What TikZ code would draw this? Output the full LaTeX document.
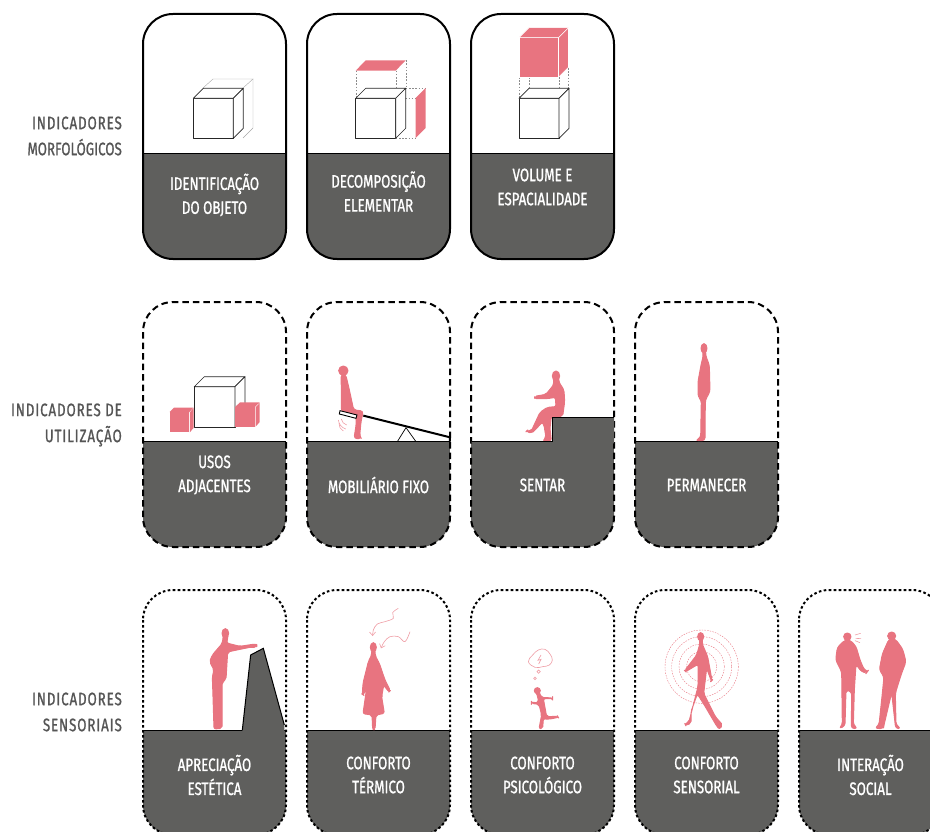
\documentclass[tikz,border=0pt]{standalone}
\usepackage{fontspec}
\usetikzlibrary{arrows.meta}
\newfontfamily\din[FakeStretch=0.74,FakeBold=1.0]{Fira Sans}
\newcommand{\ls}[1]{{\addfontfeature{LetterSpace=5}#1}}
\definecolor{rosa}{HTML}{E87480}
\definecolor{escuro}{HTML}{5F5F5D}
\definecolor{rotulo}{HTML}{555555}
\tikzset{
 x=1pt,y=-1pt,
 cardtext/.style={text=white,align=center,font=\din\fontsize{18}{24}\selectfont,inner sep=0pt},
 rowtext/.style={text=rotulo,align=right,anchor=east,font=\din\fontsize{18}{26}\selectfont,inner sep=0pt},
 solidcard/.style={line width=2pt},
 dashcard/.style={line width=2pt,dash pattern=on 6.5pt off 4pt},
 dotcard/.style={line width=2pt,dash pattern=on 2.6pt off 2.4pt},
 fig/.style={fill=rosa,draw=rosa,line width=1pt,line join=round},
 thin pink/.style={draw=rosa!70,line width=0.6pt},
 ghost/.style={draw=black!35,line width=0.4pt},
 guide/.style={draw=black!45,line width=0.4pt,dash pattern=on 1.6pt off 1.6pt},
 cube/.style={draw=black!85,line width=0.7pt,fill=white,line join=round},
}
\newcommand{\card}[7]{% name, x, ytop, ydiv, style, text y, text
 \path[fill=escuro,rounded corners=30pt] (#2,#4) -- (#2+143,#4) -- (#2+143,#3+245) -- (#2,#3+245) -- cycle;
 \fill[escuro] (#2,#4) rectangle (#2+143,#4+35);
 \draw[black,line width=1pt] (#2,#4) -- (#2+143,#4);
 \draw[#5,rounded corners=30pt] (#2,#3) rectangle (#2+143,#3+245);
 \node[cardtext] (#1) at (#2+71.5,#6) {#7};
}
\newcommand{\cubo}[4][cube]{% style; x,y,w
 \draw[#1] (#2,#3) rectangle (#2+#4,#3+#4);
 \draw[#1] (#2,#3) -- (#2+10,#3-10) -- (#2+#4+10,#3-10) -- (#2+#4,#3) -- cycle;
 \draw[#1] (#2+#4,#3) -- (#2+#4+10,#3-10) -- (#2+#4+10,#3+#4-10) -- (#2+#4,#3+#4) -- cycle;
}
\begin{document}
\begin{tikzpicture}
\useasboundingbox (0,0) rectangle (930,832);
\clip (0,0) rectangle (930,832);
% row labels
\node[rowtext] (r1) at (122,136) {\ls{INDICADORES}\\MORFOLÓGICOS};
\node[rowtext] (r2) at (122,425) {\ls{INDICADORES DE}\\\ls{UTILIZAÇÃO}};
\node[rowtext] (r3) at (122,712) {\ls{INDICADORES}\\\ls{SENSORIAIS}};
% row 1
\card{c1}{143}{14}{154}{solidcard}{195}{IDENTIFICAÇÃO\\DO OBJETO}
\card{c2}{307}{14}{154}{solidcard}{191.5}{DECOMPOSIÇÃO\\ELEMENTAR}
\card{c3}{471}{14}{154}{solidcard}{187}{VOLUME E\\ESPACIALIDADE}
% row 2
\card{c4}{143}{302}{441}{dashcard}{475}{USOS\\ADJACENTES}
\card{c5}{307}{302}{441}{dashcard}{485}{MOBILIÁRIO FIXO}
\card{c6}{471}{302}{441}{dashcard}{485}{SENTAR}
\card{c7}{635}{302}{441}{dashcard}{485}{PERMANECER}
% row 3
\card{c8}{143}{590}{730}{dotcard}{775}{APRECIAÇÃO\\ESTÉTICA}
\card{c9}{307}{590}{730}{dotcard}{775}{CONFORTO\\TÉRMICO}
\card{c10}{471}{590}{730}{dotcard}{775}{CONFORTO\\PSICOLÓGICO}
\card{c11}{635}{590}{730}{dotcard}{775}{CONFORTO\\SENSORIAL}
\card{c12}{799}{590}{730}{dotcard}{775}{INTERAÇÃO\\SOCIAL}
% --- row 1 cubes
\draw[ghost] (203,88) -- (213,79) -- (253,79) -- (243,88);
\draw[ghost] (253,79) -- (253,128) -- (243,138);
\cubo{193.3}{98.3}{40}
% decomposition
\draw[guide] (355.7,70.7) -- (355.7,98) (395.7,70.7) -- (395.7,98) (405.7,60.3) -- (405.7,88)
 (405.7,88) -- (425.7,88) (395.7,98) -- (415.7,98) (395.7,138) -- (415.7,138);
\cubo{355.7}{98.3}{40}
\fill[rosa] (355.7,70.7) -- (395.7,70.7) -- (405.7,60.3) -- (365.7,60.3) -- cycle;
\fill[rosa] (415.7,98) -- (425.7,88) -- (425.7,128) -- (415.7,138) -- cycle;
% volume
\draw[guide] (519,77) -- (519,98) (529,77) -- (529,88) (559,77) -- (559,98) (568.5,68) -- (568.5,88);
\cubo{519}{98.3}{40}
\begin{scope}
\tikzset{pinkcube/.style={fill=rosa,draw=white,line width=0.6pt}}
\cubo[pinkcube]{519}{37.7}{39.5}
\end{scope}
% --- row 2
\draw[cube] (194.3,386.7) rectangle (235,427.3);
\draw[cube] (194.3,386.7) -- (204.3,376.7) -- (245,376.7) -- (235,386.7) -- cycle;
\draw[cube] (235,386.7) -- (245,376.7) -- (245,417) -- (235,427.3) -- cycle;
\fill[rosa] (169.7,412.3) rectangle (189.3,432.3);
\fill[rosa] (169.7,412) -- (174,407.5) -- (193.5,407.5) -- (189.5,412) -- cycle;
\fill[rosa] (189.9,412.3) -- (193.5,408) -- (193.5,428) -- (189.9,432.3) -- cycle;
\fill[rosa] (235.3,407.3) rectangle (255,426.7);
\fill[rosa] (235.3,406.8) -- (240,402.4) -- (259.7,402.4) -- (255,406.8) -- cycle;
\fill[rosa] (255.6,407.3) -- (259.7,403) -- (259.7,422) -- (255.6,426.7) -- cycle;
% seesaw
\begin{scope}[shift={(130,295)},scale=1/3]
\draw[black,line width=2pt] (700,362) -- (960,427) -- (960,440);
\draw[black,line width=0.7pt] (802,440) -- (828,398) -- (858,440);
\end{scope}
\begin{scope}[shift={(325,355)},scale=1/3]
\fill[fig] (55,47) circle[radius=14];
\fill[fig,rounded corners=3pt] (48,58) -- (62,58) -- (72,100) -- (86,165) -- (115,168) -- (108,200) -- (104,243) -- (109,251) -- (87,251) -- (94,205) -- (92,180) -- (49,170) -- (49,100) -- cycle;
\draw[black,line width=0.9pt,fill=white] (45,167) -- (96,180) -- (93,190) -- (43,177) -- cycle;
\draw[thin pink] (40,195) to[bend right=30] (62,222);
\draw[thin pink] (42,205) to[bend right=30] (55,228);
\draw[thin pink] (49,192) to[bend right=30] (65,210);
\end{scope}
\begin{scope}[shift={(460,295)},scale=1/3]
\fill[escuro] (35,440) -- (277,440) -- (277,367) -- (462,367) -- (462,445) -- (35,445) -- cycle;
\fill[fig] (288,243) ellipse[x radius=11,y radius=15];
\fill[fig,rounded corners=2pt] (280,250) -- (296,250) -- (296,260) -- (312,285) -- (314,320) -- (308,364) -- (274,364) -- (270,400) -- (274,437) -- (248,437) -- (258,428) -- (252,390) -- (247,382) -- (215,415) -- (199,409) -- (202,406) -- (214,408) -- (240,352) -- (262,337) -- (288,335) -- (286,307) -- (262,311) -- (224,311) -- (224,304) -- (258,298) -- (282,268) -- cycle;
\draw[black,line width=1pt] (35,440) -- (277,440) -- (277,367) -- (462,367);
\fill[fig] (732,160) ellipse[x radius=9,y radius=14];
\fill[fig,rounded corners=3pt] (728,170) -- (737,170) -- (737,182) -- (748,210) -- (750,290) -- (736,315) -- (735,437) -- (706,437) -- (722,428) -- (724,315) -- (714,305) -- (714,260) -- (724,205) -- (730,182) -- cycle;
\end{scope}
% --- row 3
\begin{scope}[shift={(130,580)},scale=1/3]
\fill[escuro] (337,450) -- (362,225) -- (400,205) -- (463,435) -- (463,455) -- (337,455) -- cycle;
\draw[black,line width=1pt] (337,450) -- (362,225) -- (400,205) -- (463,435);
\fill[fig] (286,160) ellipse[x radius=10,y radius=14];
\fill[fig,rounded corners=2pt] (280,165) -- (294,165) -- (293,175) -- (290,189) -- (330,199) -- (375,192) -- (383,195) -- (378,203) -- (365,201) -- (320,210) -- (293,216) -- (288,298) -- (276,308) -- (276,445) -- (252,447) -- (249,350) -- (247,290) -- (252,270) -- (239,245) -- (247,225) -- (277,190) -- cycle;
\end{scope}
\begin{scope}[shift={(345,600)},scale=1/3]
\fill[fig] (85,142) ellipse[x radius=9,y radius=14];
\fill[fig,rounded corners=2pt] (80,150) -- (90,150) -- (91,168) -- (103,190) -- (120,240) -- (136,272) -- (132,276) -- (116,256) -- (110,290) -- (118,340) -- (93,345) -- (90,389) -- (83,389) -- (81,345) -- (54,341) -- (62,285) -- (65,262) -- (55,285) -- (52,283) -- (54,250) -- (70,185) -- (80,165) -- cycle;
\draw[thin pink,-{Straight Barb[length=3.5pt,width=6pt]}] plot[smooth,tension=0.6] coordinates {(160,25) (143,38) (145,55) (120,65) (97,72) (85,90) (83,108)};
\draw[thin pink,-{Straight Barb[length=3.5pt,width=6pt]}] plot[smooth,tension=0.6] coordinates {(195,95) (180,125) (160,110) (135,110) (118,125) (108,145)};
\end{scope}
\begin{scope}[shift={(460,580)},scale=1/3]
\fill[fig] (232,332) circle[radius=9];
\fill[fig,rounded corners=2pt] (226,335) -- (238,335) -- (243,352) -- (278,354) -- (278,356) -- (250,356) -- (260,410) -- (293,409) -- (295,412) -- (265,418) -- (250,416) -- (248,446) -- (237,446) -- (245,405) -- (237,373) -- (214,370) -- (214,367) -- (234,368) -- (234,350) -- cycle;
\draw[thin pink,fill=white] plot[smooth cycle,tension=0.7] coordinates {(205,245) (218,225) (235,210) (255,208) (270,222) (277,240) (268,255) (248,260) (225,262)};
\draw[thin pink] (236,275) circle[radius=5] (225,295) circle[radius=4];
\draw[thin pink] (243,225) -- (234,241) -- (243,238) -- (236,252);
\foreach \r in {110,90,68,45}
 \draw[rosa,line width=0.4pt,dash pattern=on 1.5pt off 1.2pt] (725,260) circle[radius=\r];
\fill[fig] (722,170) ellipse[x radius=9,y radius=12];
\fill[fig,rounded corners=2pt] (718,175) -- (728,175) -- (726,190) -- (743,230) -- (756,301) -- (754,303) -- (740,265) -- (731,340) -- (766,410) -- (788,435) -- (778,448) -- (770,438) -- (733,375) -- (712,342) -- (693,395) -- (693,430) -- (677,436) -- (675,432) -- (687,425) -- (714,320) -- (714,253) -- (677,275) -- (674,272) -- (710,225) -- (720,190) -- cycle;
\end{scope}
\begin{scope}[shift={(790,580)},scale=1/3]
\fill[fig] (172,170) circle[radius=11];
\fill[fig,rounded corners=3pt] (165,180) -- (180,180) -- (198,199) -- (210,240) -- (223,270) -- (233,274) -- (230,278) -- (215,276) -- (198,253) -- (193,330) -- (190,435) -- (203,445) -- (184,446) -- (185,335) -- (168,330) -- (165,438) -- (147,446) -- (157,435) -- (155,275) -- (137,240) -- (142,202) -- cycle;
\draw[thin pink] (195,165) -- (212,160) (197,175) -- (213,176) (195,182) -- (210,188);
\fill[fig] (305,168) circle[radius=12];
\fill[fig,rounded corners=3pt] (297,177) -- (316,177) -- (338,207) -- (348,245) -- (333,285) -- (316,340) -- (318,435) -- (333,445) -- (317,446) -- (305,338) -- (282,435) -- (280,446) -- (254,445) -- (267,435) -- (277,340) -- (282,290) -- (268,270) -- (277,222) -- cycle;
\end{scope}
\end{tikzpicture}
\end{document}
